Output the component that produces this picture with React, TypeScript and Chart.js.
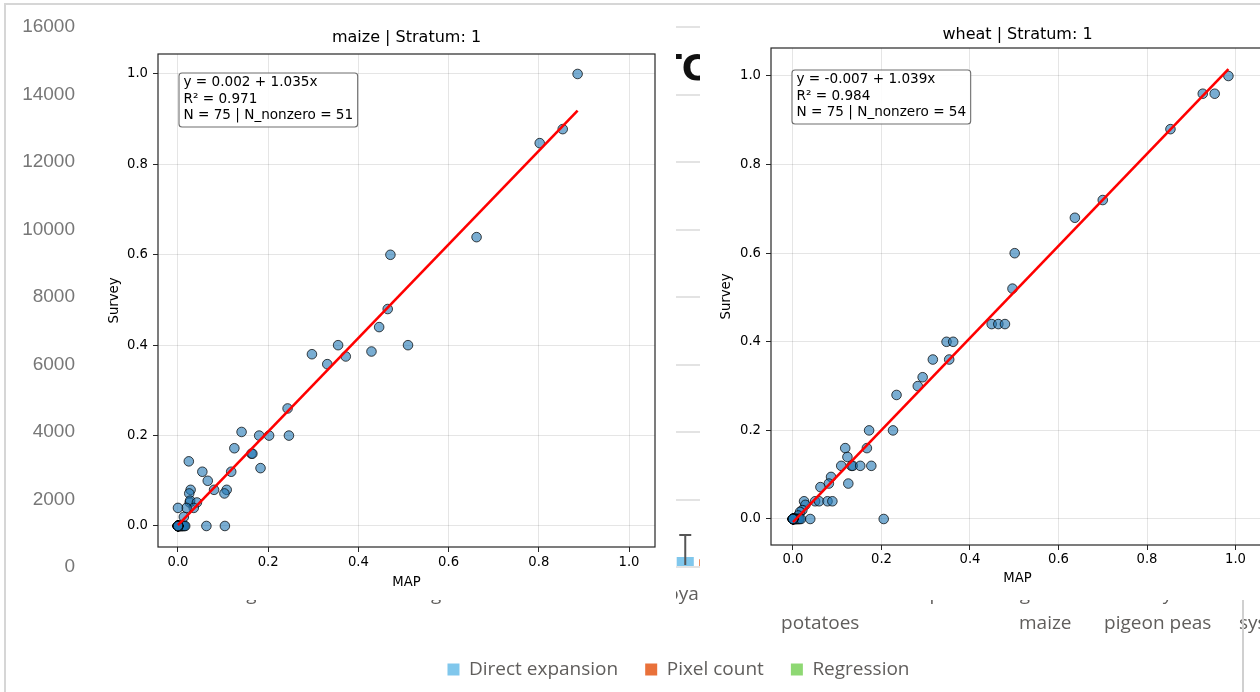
import React, { useEffect, useRef } from "react";
import { Chart, registerables } from "chart.js";

Chart.register(...registerables);

// ---------------- background column chart (mostly covered) ----------------
const cropCategories: string[][] = [
  ["beans"],
  ["sorghum"],
  ["millet"],
  ["groundnuts"],
  ["sunflower"],
  ["soya beans"],
  ["Irish", "potatoes"],
  ["cowpeas"],
  ["green", "maize"],
  ["dry", "pigeon peas"],
  ["mixed", "system", "(ha)"],
];
const directExpansion = [5200, 2400, 1300, 3900, 1700, 300, 2100, 1600, 14200, 3300, 6100];
const directExpansionLow = [3900, 1600, 700, 2700, 1000, 60, 1300, 900, 12100, 2300, 4600];
const directExpansionHigh = [6500, 3200, 1900, 5100, 2400, 950, 2900, 2300, 15600, 4300, 7600];
const pixelCount = [4800, 2600, 1100, 3600, 1900, 230, 1800, 1400, 13600, 3000, 5700];
const regressionEstimate = [5000, 2300, 1200, 3800, 1800, 280, 2000, 1500, 13900, 3200, 5900];
const countAxisMax = 16000;
const countAxisStep = 2000;
const seriesNames = ["Direct expansion", "Pixel count", "Regression"];

// ---------------- maize | Stratum: 1 ----------------
const maizeMap = [
  0.886, 0.853, 0.802, 0.662, 0.471, 0.465, 0.446, 0.51, 0.355, 0.297, 0.331, 0.372, 0.429,
  0.243, 0.246, 0.202, 0.18, 0.141, 0.125, 0.163, 0.165, 0.183, 0.118, 0.054, 0.066, 0.08,
  0.108, 0.103, 0.024, 0.028, 0.025, 0.026, 0.027, 0.042, 0.035, 0.019, 0.0, 0.013,
  0.063, 0.104, 0.002, 0.003, 0.004, 0.005, 0.006, 0.008, 0.009, 0.01, 0.012, 0.014, 0.016,
  0, 0, 0, 0, 0, 0, 0, 0, 0, 0, 0, 0, 0, 0, 0, 0, 0, 0, 0, 0, 0, 0, 0, 0,
];
const maizeSurvey = [
  1.0, 0.878, 0.847, 0.639, 0.6, 0.48, 0.44, 0.4, 0.4, 0.38, 0.358, 0.375, 0.386,
  0.26, 0.2, 0.2, 0.2, 0.208, 0.172, 0.16, 0.16, 0.128, 0.12, 0.12, 0.1, 0.08,
  0.08, 0.072, 0.143, 0.08, 0.072, 0.052, 0.056, 0.052, 0.04, 0.04, 0.04, 0.02,
  0, 0, 0, 0, 0, 0, 0, 0, 0, 0, 0, 0, 0,
  0, 0, 0, 0, 0, 0, 0, 0, 0, 0, 0, 0, 0, 0, 0, 0, 0, 0, 0, 0, 0, 0, 0, 0,
];
const maizeFit = [0.002, 1.035]; // intercept, slope
const maizeStats = ["y = 0.002 + 1.035x", "R\u00b2 = 0.971", "N = 75 | N_nonzero = 51"];

// ---------------- wheat | Stratum: 1 ----------------
const wheatMap = [
  0.984, 0.926, 0.953, 0.853, 0.7, 0.637, 0.501, 0.496, 0.449, 0.464, 0.479, 0.347, 0.362,
  0.353, 0.316, 0.293, 0.282, 0.234, 0.172, 0.226, 0.118, 0.167, 0.123, 0.109, 0.132, 0.135,
  0.152, 0.177, 0.125, 0.086, 0.081, 0.062, 0.05, 0.059, 0.078, 0.089, 0.025, 0.028, 0.021,
  0.016, 0.012,
  0.039, 0.205, 0.002, 0.003, 0.004, 0.005, 0.006, 0.008, 0.009, 0.011, 0.013, 0.015, 0.018,
  0, 0, 0, 0, 0, 0, 0, 0, 0, 0, 0, 0, 0, 0, 0, 0, 0, 0, 0, 0, 0,
];
const wheatSurvey = [
  1.0, 0.96, 0.96, 0.88, 0.72, 0.68, 0.6, 0.52, 0.44, 0.44, 0.44, 0.4, 0.4,
  0.36, 0.36, 0.32, 0.3, 0.28, 0.2, 0.2, 0.16, 0.16, 0.14, 0.12, 0.12, 0.12,
  0.12, 0.12, 0.08, 0.095, 0.08, 0.072, 0.04, 0.04, 0.04, 0.04, 0.04, 0.032, 0.02,
  0.016, 0.008,
  0, 0, 0, 0, 0, 0, 0, 0, 0, 0, 0, 0, 0,
  0, 0, 0, 0, 0, 0, 0, 0, 0, 0, 0, 0, 0, 0, 0, 0, 0, 0, 0, 0, 0,
];
const wheatFit = [-0.007, 1.039];
const wheatStats = ["y = -0.007 + 1.039x", "R\u00b2 = 0.984", "N = 75 | N_nonzero = 54"];

const scatterTicks = [0, 0.2, 0.4, 0.6, 0.8, 1.0];

const MPL = "'DejaVu Sans', sans-serif";
const PBI = "'Open Sans', 'Noto Sans', sans-serif";

function BackgroundChart() {
  const ref = useRef<HTMLCanvasElement>(null);
  useEffect(() => {
    const errorBars = {
      id: "errorBars",
      afterDatasetsDraw(chart: any) {
        const meta = chart.getDatasetMeta(0);
        const ys = chart.scales.y;
        const ctx = chart.ctx;
        ctx.save();
        ctx.strokeStyle = "#555";
        ctx.lineWidth = 2;
        meta.data.forEach((bar: any, i: number) => {
          const x = bar.x;
          const yl = ys.getPixelForValue(directExpansionLow[i]);
          const yh = ys.getPixelForValue(directExpansionHigh[i]);
          ctx.beginPath();
          ctx.moveTo(x, yl);
          ctx.lineTo(x, yh);
          ctx.moveTo(x - 6, yh);
          ctx.lineTo(x + 6, yh);
          ctx.stroke();
        });
        ctx.restore();
      },
    };
    const LABEL_LH = 29;
    const chart = new Chart(ref.current!, {
      type: "bar",
      data: {
        labels: cropCategories,
        datasets: [
          { label: seriesNames[0], data: directExpansion, backgroundColor: "#80c7ec" },
          { label: seriesNames[1], data: pixelCount, backgroundColor: "#e9713a" },
          { label: seriesNames[2], data: regressionEstimate, backgroundColor: "#8ed873" },
        ],
      },
      options: {
        animation: false,
        responsive: false,
        devicePixelRatio: 1,
        layout: { padding: { left: 0, right: 0, top: 27, bottom: 3 } },
        datasets: { bar: { categoryPercentage: 0.6, barPercentage: 0.76 } } as any,
        plugins: {
          legend: {
            position: "bottom",
            labels: {
              boxWidth: 12,
              boxHeight: 12,
              padding: 27,
              color: "#605e5c",
              font: { family: PBI, size: 19 },
            },
          },
          tooltip: { enabled: false },
        },
        scales: {
          x: {
            grid: { display: false, drawTicks: false },
            border: { display: false },
            ticks: {
              color: "#605e5c",
              font: { family: PBI, size: 19, lineHeight: LABEL_LH / 19 },
              padding: 593 - 565 - LABEL_LH / 2,
              maxRotation: 0,
              minRotation: 0,
              autoSkip: false,
            },
            afterFit: (s: any) => {
              s.height = 66;
            },
          },
          y: {
            type: "linear",
            min: 0,
            max: countAxisMax,
            ticks: {
              stepSize: countAxisStep,
              color: "#777",
              font: { family: "'Liberation Sans', Arial, sans-serif", size: 19 },
              padding: 14,
              callback: (v: any) => String(v),
            },
            grid: { color: "#e3e3e3", lineWidth: 2, drawTicks: false },
            border: { display: false },
            afterFit: (s: any) => {
              s.width = 89;
            },
          },
          yRight: {
            type: "linear",
            position: "right",
            display: true,
            grid: { display: false, drawTicks: false },
            ticks: { display: false },
            border: { display: false },
            afterFit: (s: any) => {
              s.width = 30.5;
            },
          },
        },
      } as any,
      plugins: [errorBars],
    });
    return () => chart.destroy();
  }, []);
  return (
    <canvas
      ref={ref}
      width={1357}
      height={692}
      style={{ position: "absolute", left: 0, top: 0, width: 1357, height: 692 }}
    />
  );
}

type PanelProps = {
  title: string;
  xs: number[];
  ys: number[];
  fit: number[];
  stats: string[];
  left: number;
  boxWidth: number;
  canvasWidth: number;
  height: number;
  area: { left: number; right: number; top: number; bottom: number };
  xRange: [number, number];
  yRange: [number, number];
  titleY: number;
  yTitleX: number;
  xTitleY: number;
  xTickY: number;
  yTickRight: number;
  statsOffsetY: number;
};

const TITLE_SIZE = 16;
const TICK_SIZE = 13.2;
const STATS_SIZE = 13.6;

function ScatterPanel(p: PanelProps) {
  const ref = useRef<HTMLCanvasElement>(null);
  useEffect(() => {
    const TL = 5;
    const titleLH = TITLE_SIZE * 1.2;
    const smallLH = TICK_SIZE * 1.2;
    const points = p.xs.map((x, i) => ({ x, y: p.ys[i] }));
    const xMin = Math.min(...p.xs);
    const xMax = Math.max(...p.xs);
    const fitLine = [
      { x: xMin, y: p.fit[0] + p.fit[1] * xMin },
      { x: xMax, y: p.fit[0] + p.fit[1] * xMax },
    ];
    const frameAndBox = {
      id: "frameAndBox",
      afterDraw(chart: any) {
        const { ctx, chartArea: a } = chart;
        ctx.save();
        ctx.strokeStyle = "#262626";
        ctx.lineWidth = 1.2;
        ctx.strokeRect(a.left, a.top, a.right - a.left, a.bottom - a.top);
        ctx.font = `${STATS_SIZE}px ${MPL}`;
        const w = Math.max(...p.stats.map((s) => ctx.measureText(s).width)) + 9;
        const lh = 16.3;
        const h = 54;
        const bx = a.left + 21;
        const by = a.top + p.statsOffsetY;
        const r = 3;
        ctx.beginPath();
        ctx.moveTo(bx + r, by);
        ctx.lineTo(bx + w - r, by);
        ctx.arcTo(bx + w, by, bx + w, by + r, r);
        ctx.lineTo(bx + w, by + h - r);
        ctx.arcTo(bx + w, by + h, bx + w - r, by + h, r);
        ctx.lineTo(bx + r, by + h);
        ctx.arcTo(bx, by + h, bx, by + h - r, r);
        ctx.lineTo(bx, by + r);
        ctx.arcTo(bx, by, bx + r, by, r);
        ctx.closePath();
        ctx.fillStyle = "rgba(255,255,255,0.85)";
        ctx.fill();
        ctx.strokeStyle = "#6e6e6e";
        ctx.lineWidth = 1.1;
        ctx.stroke();
        ctx.fillStyle = "#000";
        ctx.textBaseline = "middle";
        ctx.textAlign = "left";
        p.stats.forEach((s, i) => ctx.fillText(s, bx + 4.5, by + 9.8 + i * lh));
        ctx.restore();
      },
    };
    const tickFont = { family: MPL, size: TICK_SIZE, lineHeight: 1.2 };
    const chart = new Chart(ref.current!, {
      type: "scatter",
      data: {
        datasets: [
          {
            data: fitLine,
            showLine: true,
            borderColor: "#ff0000",
            borderWidth: 2.6,
            pointRadius: 0,
            fill: false,
          },
          {
            data: points,
            backgroundColor: "rgba(31,119,180,0.6)",
            borderColor: "rgba(0,0,0,0.72)",
            borderWidth: 1,
            pointRadius: 4.8,
          },
        ],
      },
      options: {
        animation: false,
        responsive: false,
        devicePixelRatio: 1,
        layout: { padding: { left: 0, top: 0, bottom: 0, right: p.canvasWidth - p.area.right } },
        plugins: {
          legend: { display: false },
          tooltip: { enabled: false },
          title: {
            display: true,
            text: p.title,
            fullSize: false,
            color: "#000",
            font: { family: MPL, size: TITLE_SIZE, lineHeight: 1.2, weight: "normal" },
            padding: {
              top: p.titleY - titleLH / 2,
              bottom: p.area.top - (p.titleY - titleLH / 2) - titleLH,
            },
          },
        },
        scales: {
          x: {
            type: "linear",
            position: "bottom",
            min: p.xRange[0],
            max: p.xRange[1],
            afterBuildTicks: (s: any) => {
              s.ticks = scatterTicks.map((v) => ({ value: v }));
            },
            afterFit: (s: any) => {
              s.height = p.height - p.area.bottom;
            },
            ticks: {
              callback: (v: any) => Number(v).toFixed(1),
              font: tickFont,
              color: "#000",
              padding: p.xTickY - p.area.bottom - TL - smallLH / 2,
              maxRotation: 0,
              autoSkip: false,
            },
            grid: { color: "rgba(0,0,0,0.1)", tickColor: "#262626", tickLength: TL, lineWidth: 1 },
            border: { display: false },
            title: {
              display: true,
              text: "MAP",
              color: "#000",
              font: tickFont,
              padding: { top: 0, bottom: p.height - p.xTitleY - smallLH / 2 },
            },
          },
          y: {
            type: "linear",
            min: p.yRange[0],
            max: p.yRange[1],
            afterBuildTicks: (s: any) => {
              s.ticks = scatterTicks.map((v) => ({ value: v }));
            },
            afterFit: (s: any) => {
              s.width = p.area.left;
            },
            ticks: {
              callback: (v: any) => Number(v).toFixed(1),
              font: tickFont,
              color: "#000",
              padding: p.area.left - TL - p.yTickRight,
            },
            grid: { color: "rgba(0,0,0,0.1)", tickColor: "#262626", tickLength: TL, lineWidth: 1 },
            border: { display: false },
            title: {
              display: true,
              text: "Survey",
              color: "#000",
              font: tickFont,
              padding: { top: p.yTitleX - smallLH / 2, bottom: 0 },
            },
          },
        },
      } as any,
      plugins: [frameAndBox],
    });
    return () => chart.destroy();
  }, []);
  return (
    <div
      style={{
        position: "absolute",
        left: p.left,
        top: 6,
        width: p.boxWidth,
        height: p.height,
        overflow: "hidden",
        background: "#fff",
      }}
    >
      <canvas
        ref={ref}
        width={p.canvasWidth}
        height={p.height}
        style={{ position: "absolute", left: 0, top: 0, width: p.canvasWidth, height: p.height }}
      />
    </div>
  );
}

export default function App() {
  return (
    <div
      style={{
        position: "fixed",
        left: 0,
        top: 0,
        width: 1260,
        height: 692,
        overflow: "hidden",
        background: "#fff",
      }}
    >
      <BackgroundChart />
      <div
        style={{
          position: "absolute",
          left: 658,
          top: 48,
          font: `bold 35px 'DejaVu Sans', sans-serif`,
          lineHeight: "normal",
          color: "#111",
          whiteSpace: "nowrap",
        }}
      >
        TC
      </div>
      <div style={{ position: "absolute", left: 4, top: 3, width: 1256, height: 2, background: "#d6d6d6" }} />
      <div style={{ position: "absolute", left: 4, top: 3, width: 2, height: 689, background: "#d6d6d6" }} />
      <ScatterPanel
        title="maize | Stratum: 1"
        xs={maizeMap}
        ys={maizeSurvey}
        fit={maizeFit}
        stats={maizeStats}
        left={82}
        boxWidth={594}
        canvasWidth={594}
        height={594}
        area={{ left: 76, right: 573, top: 48, bottom: 541 }}
        xRange={[-0.0443, 1.0576]}
        yRange={[-0.0465, 1.0442]}
        titleY={32}
        yTitleX={33}
        xTitleY={577}
        xTickY={557}
        yTickRight={66}
        statsOffsetY={19}
      />
      <ScatterPanel
        title="wheat | Stratum: 1"
        xs={wheatMap}
        ys={wheatSurvey}
        fit={wheatFit}
        stats={wheatStats}
        left={700}
        boxWidth={560}
        canvasWidth={585}
        height={594}
        area={{ left: 71, right: 564, top: 42, bottom: 539 }}
        xRange={[-0.0497, 1.0644]}
        yRange={[-0.0587, 1.0632]}
        titleY={29}
        yTitleX={27}
        xTitleY={573}
        xTickY={554}
        yTickRight={61}
        statsOffsetY={22}
      />
      <div style={{ position: "absolute", left: 1242, top: 600, width: 2, height: 92, background: "#d0d0d0" }} />
    </div>
  );
}
